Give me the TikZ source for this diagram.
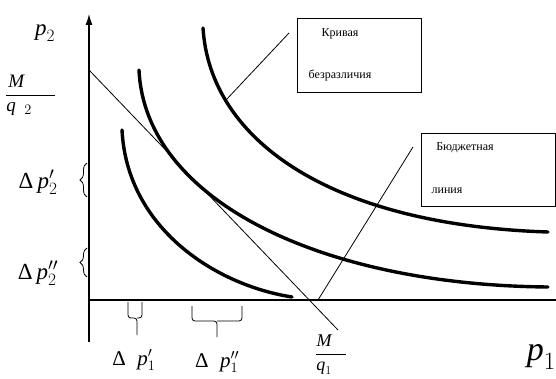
\documentclass[tikz,border=0pt]{standalone}
\usepackage{amsmath}
\usepackage{fontspec}
\setmainfont{Liberation Serif}
\usetikzlibrary{arrows.meta,decorations.pathreplacing}

\tikzset{
  curve/.style={line width=3.4pt, line cap=round},
  thin line/.style={line width=0.8pt},
  axis/.style={line width=1.2pt},
  lbl/.style={font=\fontsize{23}{25}\selectfont, inner sep=0pt},
  note/.style={draw, line width=0.9pt, inner sep=0pt},
  notetext/.style={font=\fontsize{12}{14}\selectfont, inner sep=0pt},
  vbrace/.style={decorate, decoration={brace, amplitude=7pt}, line width=0.8pt},
  hbrace/.style={line width=0.8pt, rounded corners=3pt}
}
\newcommand{\vP}{\textit{p}}
\newcommand{\vD}{\text{Δ}}

\begin{document}
\begin{tikzpicture}[x=1pt, y=-1pt]
\useasboundingbox (0,0) rectangle (556,379);
\clip (0,0) rectangle (556,379);

% axes
\coordinate (O) at (89,300);
\coordinate (ytop) at (89,14);
\coordinate (ybot) at (89,342);
\coordinate (xend) at (556,300);
\draw[axis, -{Latex[length=11pt,width=7pt]}] (ybot) -- (ytop);
\draw[axis] (O) -- (xend);

% budget line
\coordinate (bl1) at (89,70);
\coordinate (bl2) at (338,330);
\draw[thin line] (bl1) -- (bl2);

% indifference curves
\draw[curve] (122,130) .. controls (127,228) and (215,285) .. (292,297);
\draw[curve] (139,70) .. controls (145,200) and (320,285) .. (548,287);
\draw[curve] (203,28) .. controls (210,140) and (330,225) .. (548,232);

% boxes
\node[note, minimum width=124pt, minimum height=74pt] (kriv) at (359,55) {};
\node[notetext] (kriv1) at (340,34) {Кривая};
\node[notetext] (kriv2) at (340,75) {безразличия};
\node[note, minimum width=134pt, minimum height=73pt] (budg) at (488,169.5) {};
\node[notetext] (budg1) at (465,148) {Бюджетная};
\node[notetext] (budg2) at (447,191) {линия};

\coordinate (k1) at (289,33);
\coordinate (k2) at (226,100);
\draw[thin line] (k1) -- (k2);
\coordinate (b1) at (413,147);
\coordinate (b2) at (318,300);
\draw[thin line] (b1) -- (b2);

% labels
\node[lbl] (p2) at (45,33) {$\vP_2$};
\node[lbl, font=\fontsize{19}{21}\selectfont, anchor=north west] (mq2) at (5,75)
  {$\dfrac{\textit{M}\hspace{1.5em}}{\textit{q}\hspace{0.45em}{}_2\hspace{1.2em}}$};
\node[lbl] (dp2a) at (38,182) {$\vD\,\vP_2'$};
\node[lbl] (dp2b) at (38,273) {$\vD\,\vP_2''$};
\node[lbl, font=\fontsize{21}{23}\selectfont] (dp1a) at (134,360) {$\vD\;\;\vP_1'$};
\node[lbl, font=\fontsize{21}{23}\selectfont] (dp1b) at (217,362) {$\vD\;\;\vP_1''$};
\node[lbl, font=\fontsize{18}{20}\selectfont, anchor=north west] (mq1) at (315,335)
  {$\dfrac{\textit{M}\hspace{0.8em}}{\textit{q}_1\hspace{0.8em}}$};
\node[lbl, font=\fontsize{34}{36}\selectfont, anchor=east] (p1) at (556,357) {$\vP_1$};

% braces
\draw[vbrace] (87,197) -- (87,163);
\draw[vbrace] (87,277) -- (87,248);
\draw[hbrace] (128,302) |- (137,318) -- (137,335);
\draw[hbrace] (142,302) |- (137,318);
\draw[hbrace] (192,306) |- (217,321) -- (217,337);
\draw[hbrace] (242,306) |- (217,321);
\end{tikzpicture}
\end{document}
